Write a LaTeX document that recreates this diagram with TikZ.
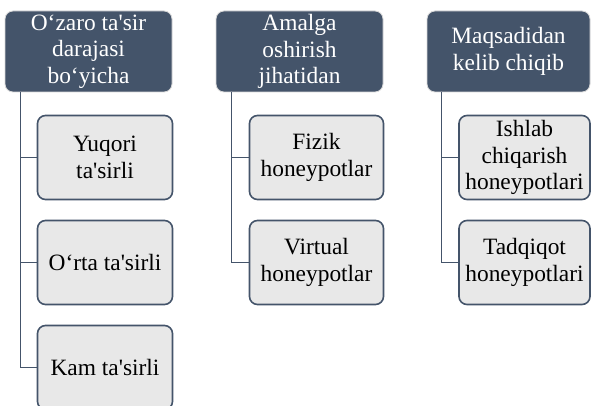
\documentclass[tikz,border=0pt]{standalone}
\usepackage{fontspec}
\setmainfont{Liberation Serif}[Ligatures=TeXOff]
\definecolor{hdr}{HTML}{44546A}
\definecolor{chd}{HTML}{E8E8E8}
\definecolor{hbd}{HTML}{D9D9D9}
\begin{document}
\begin{tikzpicture}[x=1pt,y=-1pt,
  every node/.style={font=\fontsize{23.4}{26.6}\selectfont, align=center, inner sep=0pt},
  hdrbox/.style={draw=hbd, line width=0.8pt, fill=hdr, text=white, rounded corners=8pt, minimum height=81pt},
  chdbox/.style={draw=hdr, line width=1.6pt, fill=chd, text=black, rounded corners=8pt, minimum width=134pt, minimum height=84pt},
  conn/.style={draw=hdr, line width=1.6pt}]
\useasboundingbox (0,0) rectangle (592,406);
\fill[white] (0,0) rectangle (592,406);
% headers
\node[hdrbox, minimum width=167pt] (h1) at (88.5,51.5) {O‘zaro ta'sir\\darajasi\\bo‘yicha};
\node[hdrbox, minimum width=167pt] (h2) at (299.5,51.5) {Amalga\\oshirish\\jihatidan};
\node[hdrbox, minimum width=163pt] (h3) at (508.5,51.5) {Maqsadidan\\kelib chiqib};
% children
\node[chdbox, minimum width=135pt] (c11) at (105,157.5) {Yuqori\\ta'sirli};
\node[chdbox, minimum width=135pt] (c12) at (105,262.5) {O‘rta ta'sirli};
\node[chdbox, minimum width=135pt] (c13) at (105,367.5) {Kam ta'sirli};
\node[chdbox] (c21) at (316.5,157.5) {Fizik\\honeypotlar};
\node[chdbox] (c22) at (316.5,262.5) {Virtual\\honeypotlar};
\node[chdbox, minimum width=131pt] (c31) at (524.5,157.5) {Ishlab\\chiqarish\\honeypotlari};
\node[chdbox, minimum width=131pt] (c32) at (524.5,262.5) {Tadqiqot\\honeypotlari};
% connectors
\coordinate (l1) at ([xshift=16pt]h1.south west);
\coordinate (l2) at ([xshift=16pt]h2.south west);
\coordinate (l3) at ([xshift=15pt]h3.south west);
\draw[conn] (l1) |- (c11.west);
\draw[conn] (l1) |- (c12.west);
\draw[conn] (l1) |- (c13.west);
\draw[conn] (l2) |- (c21.west);
\draw[conn] (l2) |- (c22.west);
\draw[conn] (l3) |- (c31.west);
\draw[conn] (l3) |- (c32.west);
\end{tikzpicture}
\end{document}
